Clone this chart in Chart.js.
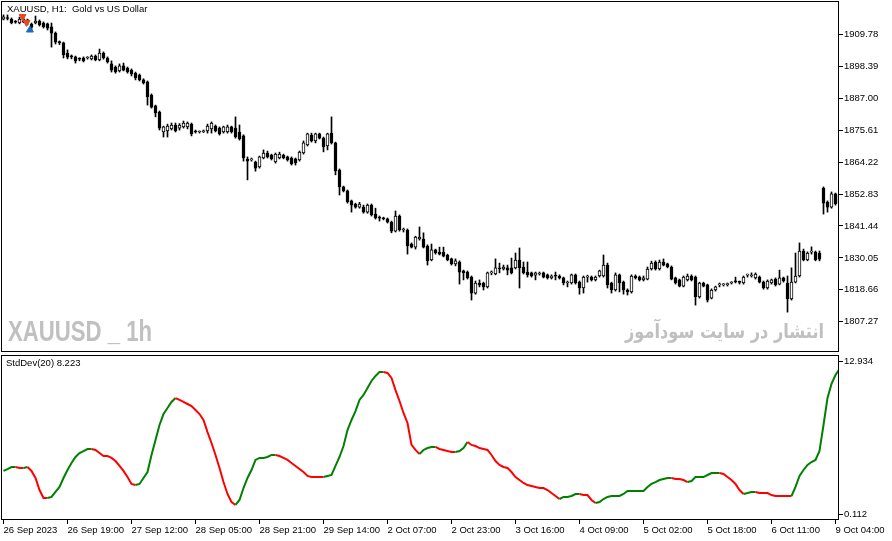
<!DOCTYPE html>
<html>
<head>
<meta charset="utf-8">
<script src="https://cdn.jsdelivr.net/npm/chart.js@4.4.0/dist/chart.umd.min.js"></script>
<style>
  html, body { margin: 0; padding: 0; background: #fff; }
  #wrap { position: relative; width: 892px; height: 541px; overflow: hidden; background: #fff; }
  #top { position: absolute; left: 0; top: 0; width: 892px; height: 353px; }
  #bot { position: absolute; left: 0; top: 352px; width: 892px; height: 189px; }
</style>
</head>
<body>
<div id="wrap">
  <div id="top"><canvas id="priceChart" width="892" height="353"></canvas></div>
  <div id="bot"><canvas id="stdChart" width="892" height="189"></canvas></div>
</div>
<script>
// XAUUSD H1 bars, 26 Sep 03:00 .. 9 Oct 05:00
const opens = [
  1915.3,1915.7,1915.3,1914.3,1913.9,1914.3,1915.0,1913.5,1913.9,1914.6,
  1913.9,1913.6,1912.5,1910.3,1907.1,1906.8,1903.2,1902.1,1901.8,1901.1,
  1901.4,1901.4,1901.1,1902.1,1900.7,1903.2,1901.4,1899.3,1898.2,1896.8,
  1898.6,1897.8,1897.1,1896.0,1895.3,1893.6,1892.9,1888.2,1884.3,1882.1,
  1875.0,1875.4,1876.1,1877.5,1876.4,1876.8,1876.8,1877.8,1875.1,1875.0,
  1875.1,1875.4,1876.1,1877.1,1876.4,1875.0,1875.0,1876.8,1876.4,1875.0,
  1873.6,1865.3,1865.0,1864.3,1862.5,1865.7,1867.5,1866.8,1864.3,1865.7,
  1866.8,1866.1,1865.7,1865.4,1865.0,1867.5,1870.4,1873.9,1871.8,1874.3,
  1872.8,1870.0,1874.6,1871.1,1861.4,1855.4,1854.0,1850.4,1849.3,1848.2,
  1848.2,1846.4,1848.9,1845.7,1844.3,1844.2,1844.0,1842.8,1839.6,1845.0,
  1840.0,1840.0,1835.0,1833.9,1836.8,1836.8,1834.3,1829.3,1832.9,1832.1,
  1832.1,1831.1,1829.7,1827.9,1828.6,1825.4,1825.0,1823.2,1817.5,1821.1,
  1821.1,1819.7,1824.7,1824.3,1826.5,1826.1,1826.5,1826.5,1826.5,1829.3,
  1826.8,1825.0,1824.7,1823.9,1824.3,1824.7,1824.0,1822.9,1823.6,1823.6,
  1822.9,1821.1,1821.1,1824.0,1821.4,1819.3,1823.2,1823.2,1822.2,1823.6,
  1823.6,1827.5,1821.1,1818.6,1824.0,1821.4,1818.6,1817.9,1823.6,1823.2,
  1822.2,1822.5,1826.1,1828.6,1826.1,1828.6,1827.9,1826.8,1822.9,1822.2,
  1820.0,1822.2,1823.6,1823.2,1816.1,1821.1,1820.4,1815.7,1818.6,1820.4,
  1820.4,1820.5,1821.1,1821.6,1821.4,1821.1,1823.9,1823.6,1822.9,1823.2,
  1821.4,1819.3,1821.1,1822.5,1820.7,1822.9,1821.1,1815.4,1821.4,1823.6,
  1832.5,1829.3,1832.1,1832.1,1831.8,1855.0,1850.0,1848.2,1852.9,1849.6
]
const highs = [
  1916.8,1916.8,1915.7,1914.8,1916.0,1916.1,1915.3,1913.9,1916.4,1915.0,
  1914.3,1913.9,1913.9,1910.7,1907.5,1907.1,1904.3,1902.5,1902.1,1901.5,
  1901.8,1901.9,1902.5,1902.5,1904.6,1903.6,1901.8,1900.4,1898.6,1899.3,
  1899.6,1898.2,1897.5,1896.4,1895.7,1894.0,1893.2,1888.6,1884.6,1882.5,
  1877.1,1877.8,1878.2,1878.2,1878.0,1878.9,1878.6,1878.2,1875.7,1875.4,
  1875.7,1877.8,1878.6,1877.5,1876.8,1877.1,1877.5,1877.1,1880.4,1877.5,
  1874.0,1866.1,1865.7,1864.6,1866.4,1868.6,1868.2,1867.1,1867.5,1867.8,
  1867.1,1866.4,1866.1,1865.7,1868.2,1871.8,1874.6,1874.6,1874.6,1874.6,
  1873.2,1874.6,1880.4,1871.4,1861.8,1855.7,1854.3,1850.7,1849.6,1849.9,
  1848.9,1849.3,1849.3,1847.8,1845.0,1844.6,1844.3,1843.2,1846.8,1845.4,
  1840.7,1840.4,1835.4,1837.8,1841.1,1839.0,1834.7,1835.0,1833.2,1833.9,
  1833.9,1831.4,1830.0,1829.7,1829.0,1825.7,1825.4,1823.6,1821.8,1822.2,
  1821.4,1825.0,1825.4,1829.7,1828.2,1827.5,1827.5,1830.0,1831.8,1833.6,
  1828.6,1828.6,1825.0,1825.0,1825.0,1825.0,1824.3,1824.0,1825.0,1824.0,
  1823.2,1821.8,1824.3,1824.3,1821.8,1823.6,1823.9,1823.6,1823.6,1825.7,
  1831.1,1828.2,1821.4,1824.7,1824.3,1821.8,1819.0,1824.0,1824.0,1823.6,
  1823.6,1826.8,1828.9,1829.0,1829.3,1829.7,1828.2,1827.2,1823.2,1822.5,
  1823.6,1824.3,1824.0,1823.6,1821.4,1821.4,1820.7,1819.0,1820.0,1821.1,
  1820.9,1821.1,1821.6,1823.2,1821.8,1823.6,1824.3,1824.7,1824.7,1823.6,
  1821.8,1822.2,1822.5,1822.9,1825.7,1823.2,1823.6,1826.5,1831.8,1835.4,
  1833.2,1832.2,1834.0,1832.5,1832.5,1855.4,1850.4,1853.6,1853.2,1853.2
]
const lows = [
  1915.0,1915.0,1913.6,1913.8,1913.6,1914.0,1913.2,1910.9,1913.6,1912.8,
  1912.1,1911.4,1905.3,1906.4,1906.2,1901.4,1901.1,1901.1,1899.6,1900.4,
  1900.0,1901.0,1900.7,1900.4,1900.4,1901.0,1899.6,1896.4,1896.0,1896.4,
  1896.8,1896.0,1895.0,1893.6,1893.2,1892.1,1884.6,1883.5,1880.4,1875.7,
  1873.2,1873.2,1875.7,1875.0,1875.7,1876.4,1876.1,1873.6,1874.6,1874.6,
  1874.8,1874.6,1874.6,1875.0,1873.9,1874.6,1874.6,1874.6,1872.8,1872.1,
  1864.6,1857.9,1864.6,1861.0,1862.1,1865.4,1865.7,1865.0,1863.9,1865.4,
  1865.4,1864.6,1863.2,1863.2,1864.6,1867.1,1870.0,1871.4,1871.1,1872.5,
  1867.9,1868.6,1870.7,1859.7,1852.5,1853.6,1849.6,1846.4,1847.8,1847.8,
  1846.0,1846.0,1845.0,1843.9,1843.2,1843.6,1842.5,1839.0,1839.3,1839.6,
  1839.3,1831.4,1833.6,1833.2,1836.4,1833.6,1827.5,1829.0,1831.4,1831.1,
  1830.4,1829.0,1827.5,1827.2,1820.7,1822.2,1822.5,1815.0,1817.1,1819.7,
  1818.6,1819.3,1824.0,1824.0,1824.7,1825.7,1824.0,1824.3,1826.1,1819.3,
  1824.3,1823.2,1823.2,1822.2,1823.9,1822.9,1822.5,1822.5,1822.2,1822.5,
  1820.4,1819.7,1820.7,1820.7,1817.1,1817.5,1821.4,1821.8,1821.8,1823.2,
  1823.2,1819.3,1817.5,1818.2,1817.9,1817.1,1816.8,1817.5,1822.5,1821.8,
  1821.8,1822.2,1825.7,1825.7,1825.7,1827.2,1826.5,1822.2,1820.7,1819.7,
  1819.7,1821.8,1821.8,1813.2,1815.7,1819.7,1814.3,1815.4,1818.2,1819.7,
  1820.0,1820.0,1820.7,1821.1,1820.7,1820.7,1823.2,1823.2,1822.5,1821.1,
  1818.9,1818.9,1820.7,1820.0,1820.4,1821.4,1810.7,1815.0,1821.1,1823.2,
  1829.0,1829.0,1831.4,1829.0,1829.0,1845.7,1846.4,1847.8,1848.9,1849.3
]
const closes = [
  1916.1,1915.5,1913.9,1914.2,1915.3,1915.3,1913.9,1912.3,1914.6,1913.2,
  1912.5,1912.1,1910.3,1907.1,1906.9,1902.5,1901.7,1901.8,1900.4,1901.0,
  1900.4,1901.5,1902.1,1900.7,1903.2,1901.4,1900.0,1897.1,1896.4,1898.6,
  1897.1,1896.4,1895.7,1894.3,1893.6,1892.5,1887.5,1883.9,1881.8,1876.4,
  1876.8,1877.1,1877.5,1875.4,1877.5,1878.2,1878.2,1874.3,1875.0,1875.1,
  1875.4,1877.1,1878.2,1875.4,1874.3,1876.8,1876.8,1875.0,1873.2,1872.5,
  1865.7,1864.6,1865.4,1862.1,1866.1,1867.5,1866.1,1865.4,1867.1,1867.1,
  1865.7,1865.0,1863.6,1864.0,1867.8,1871.1,1874.3,1871.8,1874.3,1872.8,
  1869.7,1874.3,1871.1,1861.1,1855.4,1854.0,1850.0,1848.9,1848.2,1849.3,
  1846.4,1848.9,1845.4,1844.3,1844.2,1844.0,1842.8,1839.6,1845.0,1840.0,
  1840.1,1834.3,1833.9,1837.5,1837.5,1833.9,1829.0,1832.9,1831.8,1831.4,
  1830.7,1829.3,1827.9,1829.0,1825.0,1824.7,1822.9,1817.5,1821.1,1820.4,
  1819.7,1824.7,1824.9,1826.5,1826.1,1826.8,1825.7,1824.7,1829.3,1826.5,
  1824.7,1824.0,1823.6,1824.7,1824.4,1823.2,1822.9,1823.6,1823.5,1822.9,
  1821.1,1821.2,1824.0,1821.1,1819.3,1823.2,1823.4,1822.2,1823.2,1825.4,
  1827.5,1820.4,1818.6,1824.0,1821.1,1818.6,1817.9,1823.6,1822.9,1822.2,
  1822.9,1826.1,1828.2,1826.1,1828.6,1827.5,1826.8,1822.5,1821.1,1820.0,
  1823.2,1823.6,1822.2,1816.1,1821.1,1820.0,1815.0,1818.6,1819.7,1820.5,
  1820.5,1820.6,1821.2,1821.5,1821.3,1823.2,1824.0,1823.7,1824.3,1821.4,
  1819.3,1821.8,1822.2,1820.4,1822.9,1821.8,1815.4,1821.4,1823.6,1832.5,
  1829.3,1831.8,1832.2,1829.3,1829.6,1849.6,1848.2,1852.9,1849.3,1852.5
]

// StdDev(20) of the same bars
const stdDev = [
  3.72,3.88,4.05,4.05,3.97,3.97,4.05,3.72,3.13,2.12,
  1.45,1.45,1.54,1.96,2.38,3.13,3.80,4.39,4.89,5.22,
  5.39,5.56,5.56,5.48,5.22,4.97,4.97,4.81,4.55,4.14,
  3.72,3.21,2.63,2.54,2.63,3.13,3.63,5.06,6.31,7.57,
  8.49,9.00,9.50,9.83,9.67,9.50,9.33,9.16,8.83,8.49,
  7.99,6.98,6.06,5.06,3.97,2.79,1.79,1.12,0.87,1.29,
  2.29,3.13,3.80,4.64,4.81,4.81,4.89,5.06,5.06,4.97,
  4.81,4.64,4.39,4.14,3.88,3.63,3.30,3.21,3.21,3.21,
  3.21,3.30,3.38,4.14,4.89,5.81,7.15,7.99,8.74,9.67,
  10.09,10.67,11.26,11.68,12.01,12.01,11.93,11.51,10.50,9.58,
  8.58,7.74,5.90,5.48,5.14,5.48,5.64,5.73,5.73,5.56,
  5.48,5.39,5.31,5.31,5.39,5.64,6.15,5.90,5.81,5.64,
  5.56,5.48,5.06,4.55,4.22,4.05,3.97,3.63,3.21,2.96,
  2.71,2.54,2.46,2.38,2.29,2.29,2.12,1.87,1.62,1.37,
  1.54,1.54,1.62,1.79,1.79,1.70,1.70,1.29,1.03,1.12,
  1.37,1.54,1.62,1.62,1.62,1.79,2.04,2.04,2.04,2.04,
  2.04,2.38,2.63,2.79,2.96,3.05,3.13,3.13,3.05,3.05,
  2.96,2.79,2.88,3.21,3.21,3.21,3.38,3.55,3.55,3.55,
  3.47,3.21,2.96,2.63,2.12,1.79,1.87,1.96,1.96,1.87,
  1.87,1.87,1.70,1.62,1.62,1.62,1.62,1.62,2.38,3.30,
  3.80,4.22,4.47,4.64,5.39,7.57,9.83,11.01,11.76,12.26
]

// trade arrows (bar index, price)
const sellMarks = [{ x: 4.75, y: 1916.2 }, { x: 5.75, y: 1914.1 }]
const buyMarks = [{ x: 6.6, y: 1911.4 }]

const priceTicks = [1807.27, 1818.66, 1830.05, 1841.44, 1852.83, 1864.22, 1875.61, 1887.00, 1898.39, 1909.78]
const stdTicks = [0.112, 12.934]
const timeTickIdx = [0, 16, 32, 48, 64, 80, 96, 112, 128, 144, 160, 176, 192, 208]
const timeTickText = ['26 Sep 2023', '26 Sep 19:00', '27 Sep 12:00', '28 Sep 05:00', '28 Sep 21:00',
  '29 Sep 14:00', '2 Oct 07:00', '2 Oct 23:00', '3 Oct 16:00', '4 Oct 09:00',
  '5 Oct 02:00', '5 Oct 18:00', '6 Oct 11:00', '9 Oct 04:00']

const FONT = { family: 'Liberation Sans, Arial, sans-serif', size: 9.5 }
const X_MIN = -0.625
const X_MAX = 208.875

const idx = closes.map((_, i) => i)
const wickData = idx.map(i => ({ x: i, y: [lows[i], highs[i]] }))
const bodyData = idx.map(i => ({ x: i, y: [opens[i], closes[i]] }))
const bodyFill = idx.map(i => closes[i] >= opens[i] ? '#ffffff' : '#000000')
const stdData = idx.map(i => ({ x: i, y: stdDev[i] }))

// green while rising, red while falling, flat keeps last direction
function stdColor(i) {
  for (let k = i; k > 0; k--) {
    if (stdDev[k] > stdDev[k - 1]) return '#008000'
    if (stdDev[k] < stdDev[k - 1]) return '#ff0000'
  }
  return '#008000'
}

const framePlugin = {
  id: 'frame',
  afterDraw(chart) {
    const { ctx, chartArea: a } = chart
    ctx.save()
    ctx.strokeStyle = '#000'
    ctx.lineWidth = 1
    ctx.strokeRect(a.left + 0.5, a.top + 0.5, a.right - a.left - 1, a.bottom - a.top - 1)
    ctx.restore()
  }
}

function fitText(ctx, text, x, y, width, align) {
  const w = ctx.measureText(text).width
  ctx.save()
  ctx.translate(x, y)
  ctx.scale(width / w, 1)
  ctx.textAlign = align
  ctx.fillText(text, 0, 0)
  ctx.restore()
}

const priceText = {
  id: 'priceText',
  beforeDatasetsDraw(chart) {
    const ctx = chart.ctx
    ctx.save()
    ctx.fillStyle = '#c0c0c0'
    ctx.textBaseline = 'alphabetic'
    ctx.font = 'bold 29px "Liberation Sans", Arial, sans-serif'
    fitText(ctx, 'XAUUSD _ 1h', 8, 341, 144, 'left')
    ctx.font = 'bold 20px "DejaVu Sans", sans-serif'
    ctx.direction = 'rtl'
    fitText(ctx, 'انتشار در سایت سودآموز', 824, 338, 199, 'right')
    ctx.restore()
  },
  afterDraw(chart) {
    const ctx = chart.ctx
    ctx.save()
    ctx.fillStyle = '#000'
    ctx.font = '9.5px "Liberation Sans", Arial, sans-serif'
    ctx.textBaseline = 'middle'
    ctx.fillText('XAUUSD, H1:  Gold vs US Dollar', 7, 9)
    ctx.restore()
  }
}

const stdText = {
  id: 'stdText',
  afterDraw(chart) {
    const ctx = chart.ctx
    ctx.save()
    ctx.fillStyle = '#000'
    ctx.font = '9.5px "Liberation Sans", Arial, sans-serif'
    ctx.textBaseline = 'middle'
    ctx.fillText('StdDev(20) 8.223', 6, 11)
    ctx.restore()
  }
}

function yAxis(min, max, ticks, digits) {
  return {
    position: 'right',
    min: min,
    max: max,
    afterBuildTicks: a => { a.ticks = ticks.map(v => ({ value: v })) },
    afterFit: a => { a.width = 53; a.paddingTop = 0; a.paddingBottom = 0 },
    ticks: { callback: v => Number(v).toFixed(digits), font: FONT, color: '#000', padding: 1 },
    grid: { drawOnChartArea: false, drawTicks: true, tickLength: 4, color: '#000' },
    border: { display: false }
  }
}

new Chart(document.getElementById('priceChart'), {
  type: 'bar',
  data: {
    datasets: [
      {
        data: wickData,
        backgroundColor: '#000',
        barThickness: 1,
        grouped: false,
        minBarLength: 1,
        order: 3
      },
      {
        data: bodyData,
        backgroundColor: bodyFill,
        borderColor: '#000',
        borderWidth: 1,
        borderSkipped: false,
        barThickness: 3,
        grouped: false,
        minBarLength: 1,
        order: 2
      },
      {
        type: 'scatter',
        data: sellMarks,
        pointStyle: 'triangle',
        rotation: 180,
        radius: 4,
        backgroundColor: '#e8461e',
        borderColor: '#e8461e',
        order: 1
      },
      {
        type: 'scatter',
        data: buyMarks,
        pointStyle: 'triangle',
        radius: 4,
        backgroundColor: '#1a6dc2',
        borderColor: '#1a6dc2',
        order: 1
      }
    ]
  },
  options: {
    responsive: false,
    animation: false,
    layout: { autoPadding: false, padding: { left: 1, top: 1, right: 0, bottom: 1 } },
    plugins: { legend: { display: false }, tooltip: { enabled: false } },
    scales: {
      x: { type: 'linear', display: false, offset: false, grid: { offset: false }, min: X_MIN, max: X_MAX },
      y: yAxis(1796.46, 1921.76, priceTicks, 2)
    }
  },
  plugins: [priceText, framePlugin]
})

new Chart(document.getElementById('stdChart'), {
  type: 'line',
  data: {
    datasets: [{
      data: stdData,
      borderWidth: 2,
      pointRadius: 0,
      tension: 0,
      borderColor: '#008000',
      segment: { borderColor: c => stdColor(c.p1DataIndex) }
    }]
  },
  options: {
    responsive: false,
    animation: false,
    layout: { autoPadding: false, padding: { left: 1, top: 3, right: 0, bottom: 0 } },
    plugins: { legend: { display: false }, tooltip: { enabled: false } },
    scales: {
      x: {
        type: 'linear',
        min: X_MIN,
        max: X_MAX,
        offset: false,
        afterBuildTicks: a => { a.ticks = timeTickIdx.map(v => ({ value: v })) },
        afterFit: a => { a.height = 21; a.paddingLeft = 0; a.paddingRight = 0 },
        ticks: {
          callback: (v, i) => timeTickText[i],
          align: 'start',
          autoSkip: false,
          maxRotation: 0,
          padding: 1,
          font: FONT,
          color: '#000'
        },
        grid: { drawOnChartArea: false, drawTicks: true, tickLength: 4, color: '#000', offset: false },
        border: { display: false }
      },
      y: yAxis(-0.390, 13.437, stdTicks, 3)
    }
  },
  plugins: [stdText, framePlugin]
})
</script>
</body>
</html>
